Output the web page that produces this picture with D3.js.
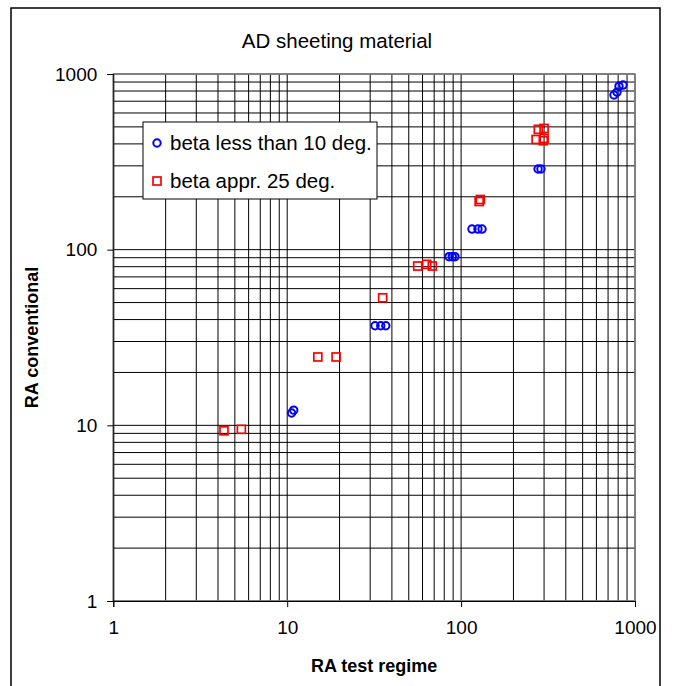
<!DOCTYPE html>
<html>
<head>
<meta charset="utf-8">
<script src="https://cdn.jsdelivr.net/npm/d3@7"></script>
<style>
  body { margin: 0; background: #fff; }
  text { font-family: "Liberation Sans", Arial, sans-serif; }
</style>
</head>
<body>
<script>
// chart values
var title = "AD sheeting material";
var xTitle = "RA test regime";
var yTitle = "RA conventional";
var tickValues = [1, 10, 100, 1000];
var seriesNames = ["beta less than 10 deg.", "beta appr. 25 deg."];

var blueX = [10.6, 10.9, 32.0, 34.5, 36.9, 85.2, 89, 92.2, 115.5, 125, 132, 277, 288, 757, 788, 809, 853];
var blueY = [11.75, 12.2, 36.9, 36.9, 36.9, 91.2, 91.2, 91.2, 131, 131, 131, 288, 288, 759, 789, 853, 865];
var redX = [4.33, 5.45, 15.0, 19.1, 35.4, 56.3, 63.4, 68.3, 127, 129, 270, 278, 300, 300, 297];
var redY = [9.31, 9.49, 24.5, 24.5, 53.2, 80.7, 82.5, 80.7, 188, 193, 424, 484, 490, 430, 417];

var width = 674;
var height = 686;

var x = d3.scaleLog()
          .domain([1, 1000])
          .range([113.3, 635]);

var y = d3.scaleLog()
          .domain([1, 1000])
          .range([601, 74]);

var svg = d3.select("body")
            .append("svg")
            .attr("width", width)
            .attr("height", height);

// outer chart frame
svg.append("rect")
   .attr("x", 11)
   .attr("y", 8)
   .attr("width", 649)
   .attr("height", 720)
   .attr("fill", "#fff")
   .attr("stroke", "#000")
   .attr("stroke-width", 1.5);

// grid lines, every log tick
svg.selectAll(".vgrid")
   .data(x.ticks())
   .enter()
     .append("line")
     .attr("class", "vgrid")
     .attr("x1", function(d){ return x(d); })
     .attr("x2", function(d){ return x(d); })
     .attr("y1", y(1))
     .attr("y2", y(1000))
     .attr("stroke", "#000")
     .attr("stroke-width", 1);

svg.selectAll(".hgrid")
   .data(y.ticks())
   .enter()
     .append("line")
     .attr("class", "hgrid")
     .attr("y1", function(d){ return y(d); })
     .attr("y2", function(d){ return y(d); })
     .attr("x1", x(1))
     .attr("x2", x(1000))
     .attr("stroke", "#000")
     .attr("stroke-width", 1);

// plot area outline
svg.append("rect")
   .attr("x", x(1))
   .attr("y", y(1000))
   .attr("width", x(1000) - x(1))
   .attr("height", y(1) - y(1000))
   .attr("fill", "none")
   .attr("stroke", "#808080")
   .attr("stroke-width", 1.5);

// axes
var xAxis = d3.axisBottom(x)
              .tickValues(tickValues)
              .tickSize(6)
              .tickPadding(14)
              .tickFormat(d3.format("d"));

var yAxis = d3.axisLeft(y)
              .tickValues(tickValues)
              .tickSize(6)
              .tickPadding(10)
              .tickFormat(d3.format("d"));

var gx = svg.append("g")
            .attr("transform", "translate(0," + y(1) + ")")
            .call(xAxis);

var gy = svg.append("g")
            .attr("transform", "translate(" + x(1) + ",0)")
            .call(yAxis);

[gx, gy].forEach(function(g){
  g.select(".domain").attr("stroke", "#000");
  g.selectAll(".tick line").attr("stroke", "#000");
  g.selectAll(".tick text")
   .attr("fill", "#000")
   .style("font-size", "19px")
   .style("font-family", "'Liberation Sans', Arial, sans-serif");
});

// blue circles
svg.selectAll(".blue")
   .data(blueX)
   .enter()
     .append("circle")
     .attr("class", "blue")
     .attr("cx", function(d){ return x(d); })
     .attr("cy", function(d, i){ return y(blueY[i]); })
     .attr("r", 3.7)
     .attr("fill", "none")
     .attr("stroke", "#0000ff")
     .attr("stroke-width", 2);

// red squares
svg.selectAll(".red")
   .data(redX)
   .enter()
     .append("rect")
     .attr("class", "red")
     .attr("x", function(d){ return x(d) - 4; })
     .attr("y", function(d, i){ return y(redY[i]) - 4; })
     .attr("width", 8)
     .attr("height", 8)
     .attr("fill", "none")
     .attr("stroke", "#ff0000")
     .attr("stroke-width", 1.7);

// title and axis titles
svg.append("text")
   .attr("x", 337)
   .attr("y", 48)
   .attr("text-anchor", "middle")
   .style("font-size", "20.5px")
   .text(title);

svg.append("text")
   .attr("x", (x(1) + x(1000)) / 2)
   .attr("y", 672)
   .attr("text-anchor", "middle")
   .style("font-size", "18px")
   .style("font-weight", "bold")
   .text(xTitle);

svg.append("text")
   .attr("transform", "translate(38," + (y(1) + y(1000)) / 2 + ") rotate(-90)")
   .attr("text-anchor", "middle")
   .style("font-size", "18px")
   .style("font-weight", "bold")
   .text(yTitle);

// legend
var legend = svg.append("g");
legend.append("rect")
      .attr("x", 143)
      .attr("y", 122)
      .attr("width", 234)
      .attr("height", 77)
      .attr("fill", "#fff")
      .attr("stroke", "#000")
      .attr("stroke-width", 1);

legend.append("circle")
      .attr("cx", 157)
      .attr("cy", 143)
      .attr("r", 3.7)
      .attr("fill", "none")
      .attr("stroke", "#0000ff")
      .attr("stroke-width", 2);

legend.append("rect")
      .attr("x", 153)
      .attr("y", 177)
      .attr("width", 8)
      .attr("height", 8)
      .attr("fill", "none")
      .attr("stroke", "#ff0000")
      .attr("stroke-width", 1.7);

legend.selectAll(".ltext")
      .data(seriesNames)
      .enter()
        .append("text")
        .attr("class", "ltext")
        .attr("x", 170)
        .attr("y", function(d, i){ return 150 + i * 38; })
        .style("font-size", "20.5px")
        .text(function(d){ return d; });
</script>
</body>
</html>
